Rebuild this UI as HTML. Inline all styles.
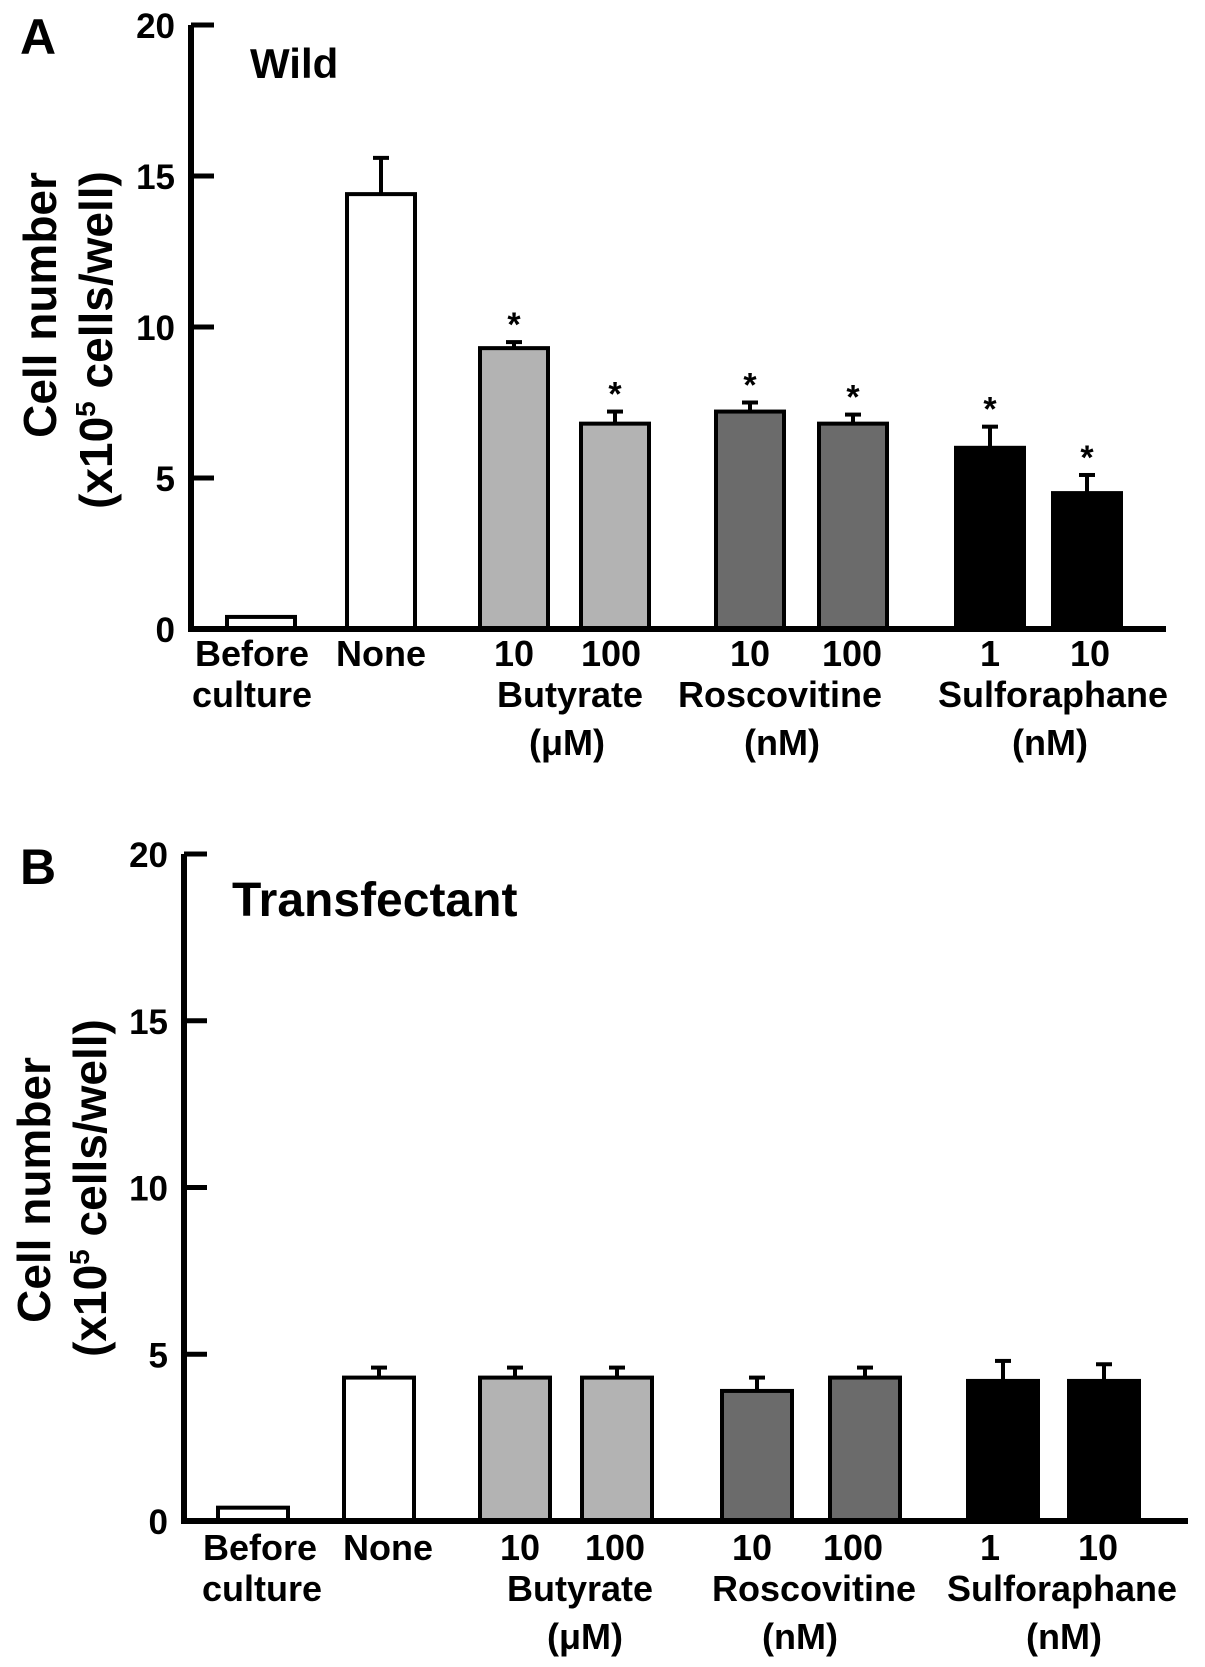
<!DOCTYPE html>
<html><head><meta charset="utf-8"><style>
body{margin:0;background:#fff;}
svg{display:block;font-family:"Liberation Sans",Arial,sans-serif;font-weight:bold;}
</style></head><body>
<svg id="fig" width="1205" height="1667" viewBox="0 0 1205 1667">
<g>
<text x="20" y="54" font-size="50">A</text>
<text x="250" y="78" font-size="42">Wild</text>
<text transform="translate(56,305) rotate(-90)" text-anchor="middle" font-size="46">Cell number</text>
<text transform="translate(112,340) rotate(-90)" text-anchor="middle" font-size="46">(x10<tspan font-size="28" dy="-17">5</tspan><tspan dy="17"> cells/well)</tspan></text>
<g font-size="36" text-anchor="middle">
<text x="252" y="666">Before</text><text x="252" y="707">culture</text>
<text x="381" y="666">None</text>
<text x="514" y="666">10</text><text x="611" y="666">100</text>
<text x="570" y="707">Butyrate</text><text x="567" y="755">(μM)</text>
<text x="750" y="666">10</text><text x="852" y="666">100</text>
<text x="780" y="707">Roscovitine</text><text x="782" y="755">(nM)</text>
<text x="990" y="666">1</text><text x="1090" y="666">10</text>
<text x="1053" y="707">Sulforaphane</text><text x="1050" y="755">(nM)</text>
</g>
<g id="plotA"></g>
</g>
<g>
<text x="20" y="884" font-size="50">B</text>
<text x="232" y="916" font-size="48">Transfectant</text>
<text transform="translate(50,1190) rotate(-90)" text-anchor="middle" font-size="46">Cell number</text>
<text transform="translate(106,1188) rotate(-90)" text-anchor="middle" font-size="46">(x10<tspan font-size="28" dy="-17">5</tspan><tspan dy="17"> cells/well)</tspan></text>
<g font-size="36" text-anchor="middle">
<text x="260" y="1560">Before</text><text x="262" y="1601">culture</text>
<text x="388" y="1560">None</text>
<text x="520" y="1560">10</text><text x="615" y="1560">100</text>
<text x="580" y="1601">Butyrate</text><text x="585" y="1649">(μM)</text>
<text x="752" y="1560">10</text><text x="853" y="1560">100</text>
<text x="814" y="1601">Roscovitine</text><text x="800" y="1649">(nM)</text>
<text x="990" y="1560">1</text><text x="1098" y="1560">10</text>
<text x="1062" y="1601">Sulforaphane</text><text x="1064" y="1649">(nM)</text>
</g>
<g id="plotB"></g>
</g>
</svg>
<script>
const categories = ["Before culture","None","Butyrate 10","Butyrate 100","Roscovitine 10","Roscovitine 100","Sulforaphane 1","Sulforaphane 10"];
const fills = ["#fff","#fff","#b3b3b3","#b3b3b3","#6b6b6b","#6b6b6b","#000","#000"];
const wildValues = [0.4, 14.4, 9.3, 6.8, 7.2, 6.8, 6.0, 4.5];
const wildErrors = [0, 1.2, 0.2, 0.4, 0.3, 0.3, 0.7, 0.6];
const wildSig = [false,false,true,true,true,true,true,true];
const transValues = [0.4, 4.3, 4.3, 4.3, 3.9, 4.3, 4.2, 4.2];
const transErrors = [0, 0.3, 0.3, 0.3, 0.4, 0.3, 0.6, 0.5];
const transSig = [false,false,false,false,false,false,false,false];
const yTicks = [0,5,10,15,20];

const NS="http://www.w3.org/2000/svg";
function mk(tag, attrs, parent){const e=document.createElementNS(NS,tag);for(const k in attrs)e.setAttribute(k,attrs[k]);parent.appendChild(e);return e;}

function drawPanel(g, cfg, values, errors, sig, key){
  const y = v => cfg.y0 - (v/20)*(cfg.y0-cfg.y20);
  const bw = cfg.bw;
  values.forEach((v,i)=>{
    const cx = cfg.xs[i];
    const top = y(v);
    if(errors[i]>0){
      const et = y(v+errors[i]);
      const el = mk('line',{x1:cx,x2:cx,y1:top,y2:et,stroke:'#000','stroke-width':4},g);
      
      
      const cap = mk('line',{x1:cx-8,x2:cx+8,y1:et,y2:et,stroke:'#000','stroke-width':4},g);
      
      
    }
    const r = mk('rect',{x:cx-bw/2,y:top,width:bw,height:cfg.y0-top,fill:fills[i],stroke:'#000','stroke-width':4},g);
    
    
    if(sig[i]){
      const s = mk('text',{x:cx,y:y(v+errors[i])-6,'text-anchor':'middle','font-size':34},g);
      s.textContent='*';
      
      
    }
  });
  const ax = mk('path',{d:`M${cfg.ax},${y(20)} L${cfg.ax},${cfg.y0} L${cfg.xend},${cfg.y0}`,fill:'none',stroke:'#000','stroke-width':6},g);
  
  
  yTicks.forEach(t=>{
    const ty=y(t);
    const tk = mk('line',{x1:cfg.ax,x2:cfg.ax+23,y1:ty,y2:ty,stroke:'#000','stroke-width':5},g);
    
    
    const tl = mk('text',{x:cfg.ax-16,y:ty+13,'text-anchor':'end','font-size':35},g);
    tl.textContent=t;
    
    
  });
}
drawPanel(document.getElementById('plotA'),
  {y0:629,y20:25,ax:191,xend:1166,bw:68,xs:[261,381,514,615,750,853,990,1087]},
  wildValues, wildErrors, wildSig, 'a');
drawPanel(document.getElementById('plotB'),
  {y0:1521,y20:854,ax:184,xend:1188,bw:70,xs:[253,379,515,617,757,865,1003,1104]},
  transValues, transErrors, transSig, 'b');
</script>
</body></html>
